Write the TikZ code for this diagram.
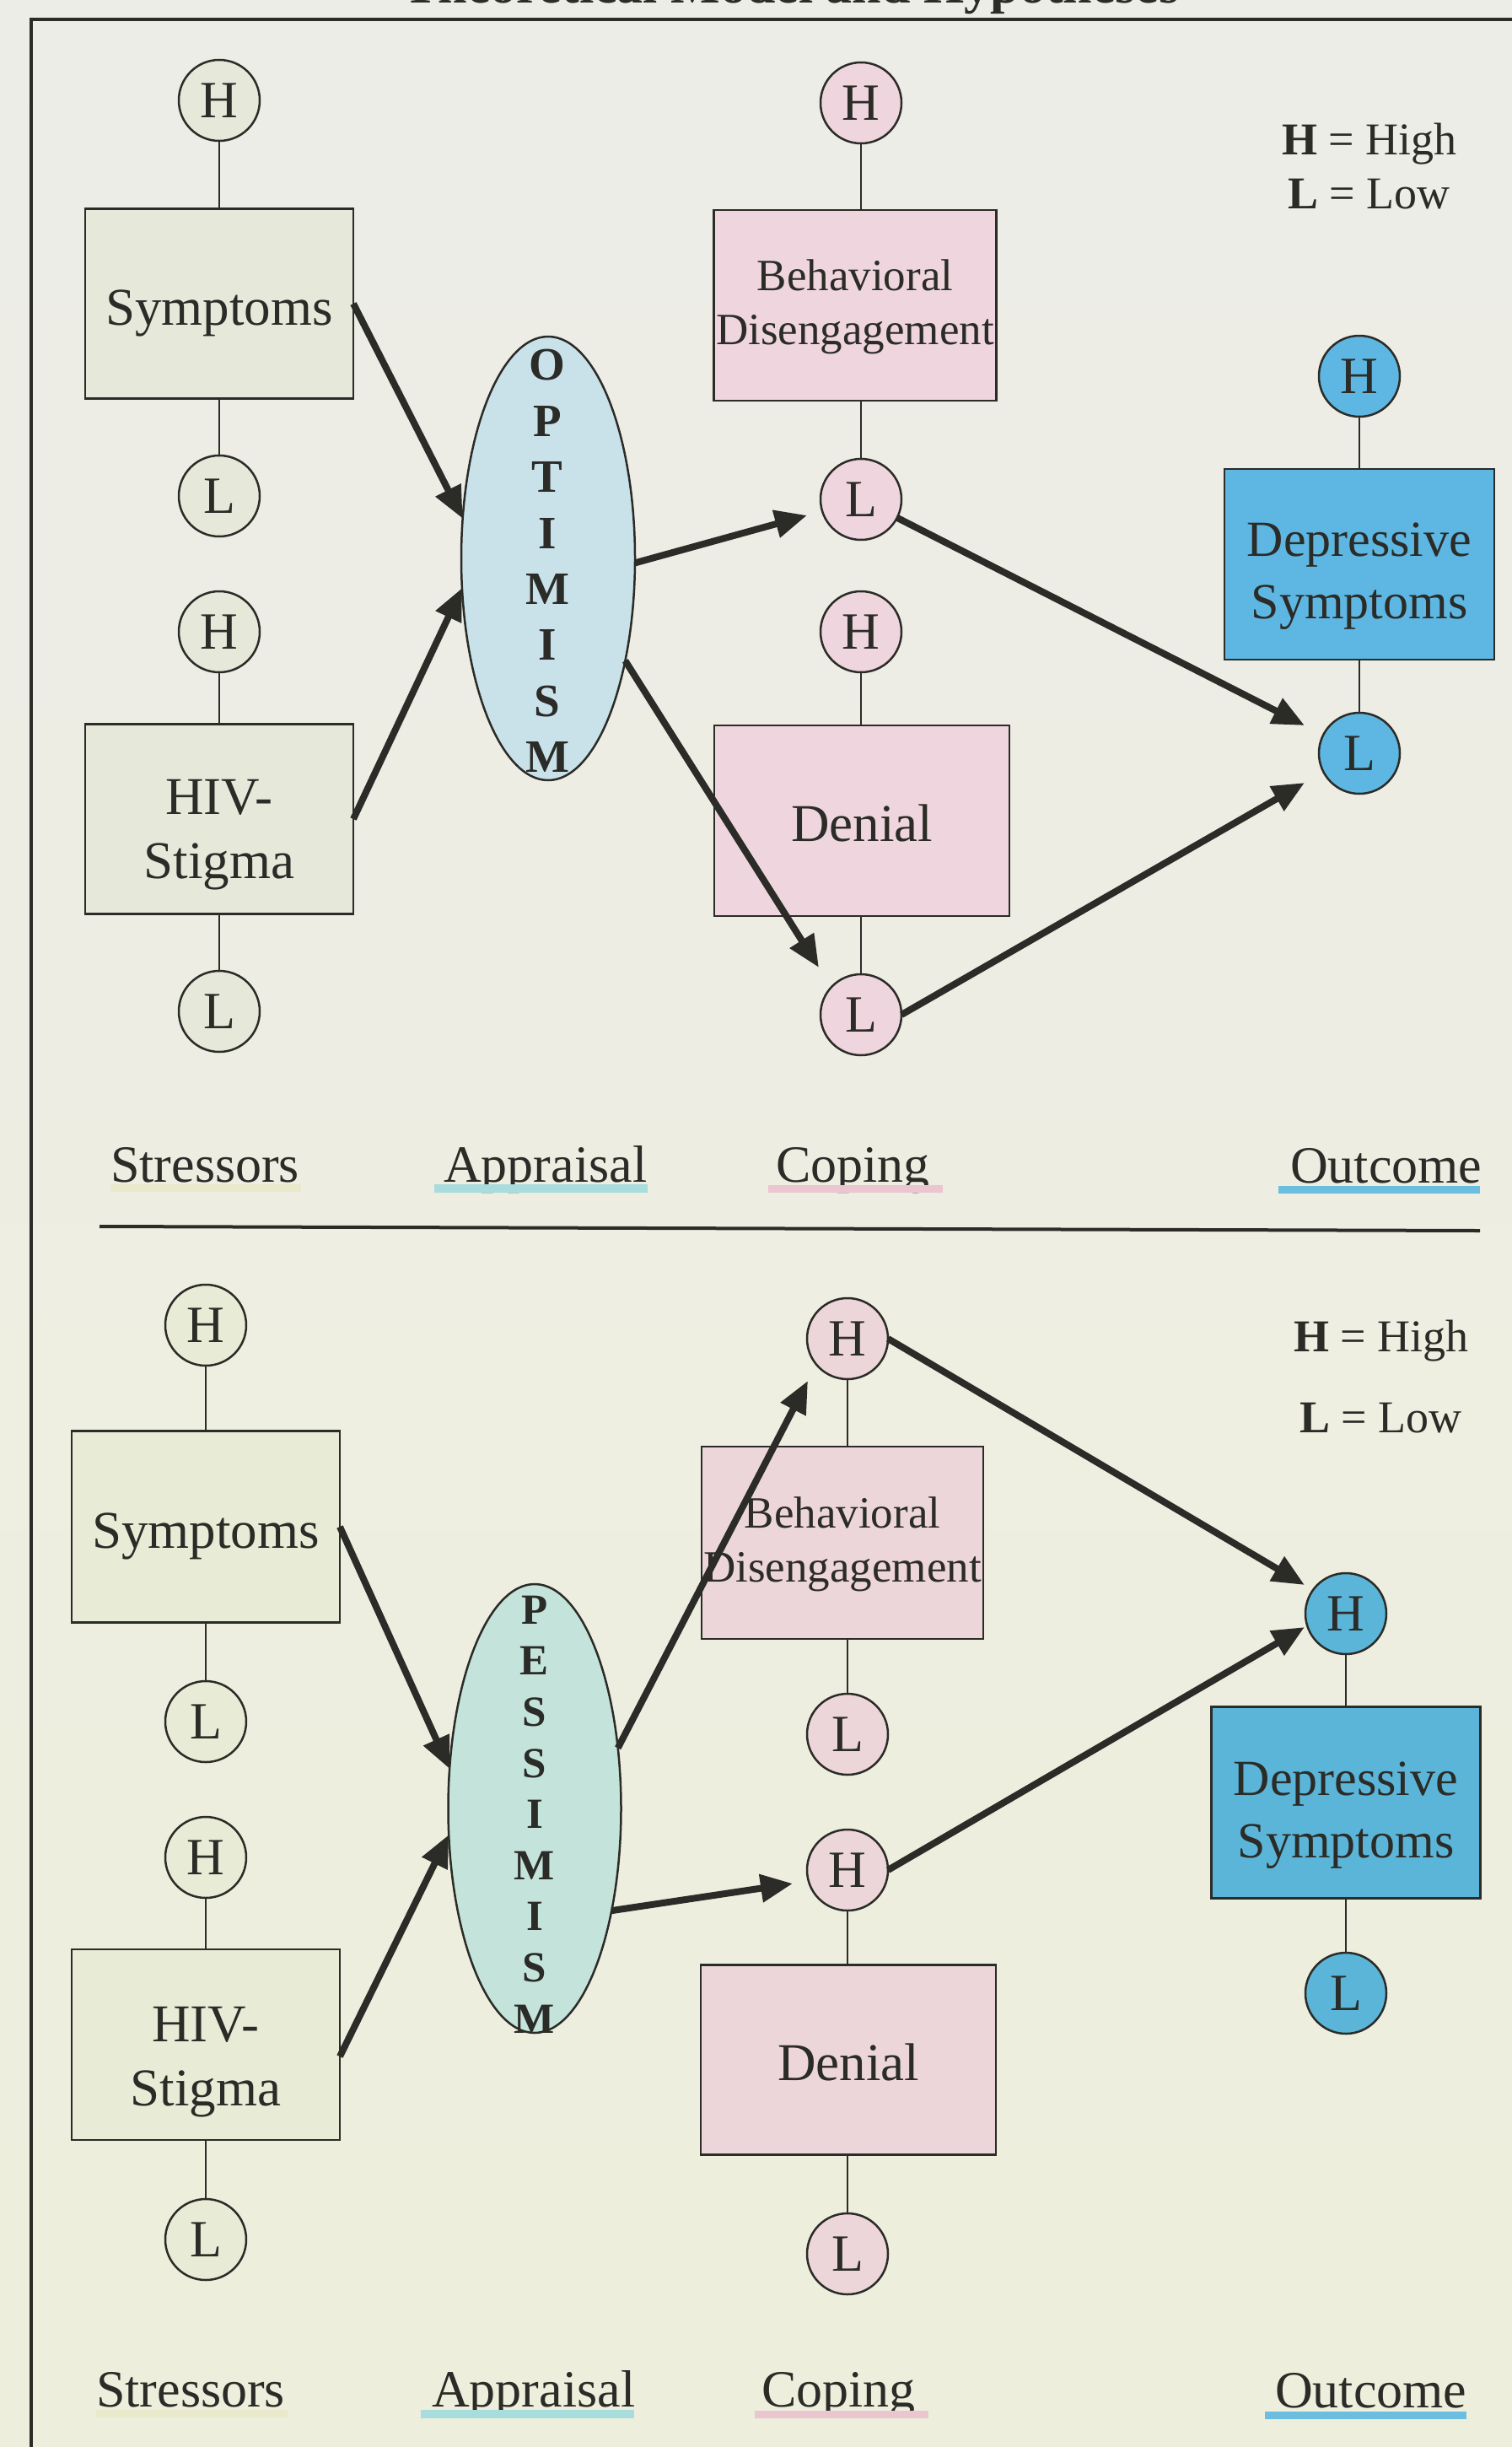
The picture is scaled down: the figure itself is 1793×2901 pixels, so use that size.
\documentclass[tikz,border=0pt]{standalone}
\usepackage{fontspec}
\setmainfont{Liberation Serif}
\usetikzlibrary{shapes.geometric,arrows.meta,calc}
\definecolor{bgtop}{HTML}{EDEDE8}
\definecolor{bgbot}{HTML}{EEEEDC}
\definecolor{ink}{HTML}{2B2B27}
\definecolor{strA}{HTML}{E6E8DA}
\definecolor{strB}{HTML}{E8EBD5}
\definecolor{copA}{HTML}{EED5DE}
\definecolor{copB}{HTML}{ECD6D9}
\definecolor{optc}{HTML}{C9E2EA}
\definecolor{pesc}{HTML}{C4E4DB}
\definecolor{outA}{HTML}{5EB7E2}
\definecolor{outB}{HTML}{5BB5D9}
\definecolor{barS}{HTML}{E9E9CC}
\definecolor{barA}{HTML}{A9DCDC}
\definecolor{barC}{HTML}{EBC6D0}
\definecolor{barO}{HTML}{6CBEE1}
\tikzset{
  circ/.style={circle, draw=ink, line width=2.5pt, minimum size=96pt, inner sep=0pt, outer sep=0pt, font=\fontsize{62}{74}\selectfont, text=ink},
  boxs/.style={rectangle, draw=ink, line width=2.5pt, inner sep=0pt, outer sep=0pt},
  btxt/.style={inner sep=0pt, align=center, text=ink},
  ovl/.style={ellipse, draw=ink, line width=2.5pt, inner sep=0pt, outer sep=0pt},
  conn/.style={draw=ink, line width=2pt},
  arr/.style={draw=ink, line width=8pt, -{Triangle[length=38pt,width=32pt]}},
  lab/.style={anchor=base west, font=\fontsize{62}{74}\selectfont, text=ink, inner sep=0pt},
  leg/.style={anchor=base west, font=\fontsize{54}{64}\selectfont, text=ink, inner sep=0pt},
  fA/.style={font=\fontsize{63}{76}\selectfont},
  fB/.style={font=\fontsize{53}{64}\selectfont},
  fD/.style={font=\fontsize{60}{74}\selectfont},
}
\begin{document}
\begin{tikzpicture}[x=1pt,y=-1pt]
\useasboundingbox (0,0) rectangle (1793,2901);
\clip (0,0) rectangle (1793,2901);
\shade[top color=bgtop,bottom color=bgbot] (0,0) rectangle (1793,2901);
% title (cut off at top)
\node[anchor=base west, inner sep=0pt, font=\fontsize{62}{74}\selectfont\bfseries, text=ink] (title) at (478,4) {Theoretical Model and Hypotheses};
% frame
\draw[ink, line width=3.5pt] (37,2910) -- (37,23) -- (1800,23);

% ================= TOP PANEL =================
\node[circ, fill=strA] (H1) at (260,119) {H};
\node[boxs, fill=strA, minimum width=318pt, minimum height=225pt] (Sym) at (260,360) {};
\node[btxt, fA] (SymT) at ($(Sym.center)+(0,11)$) {Symptoms};
\node[circ, fill=strA] (L1) at (260,588) {L};
\node[circ, fill=strA] (H2) at (260,749) {H};
\node[boxs, fill=strA, minimum width=318pt, minimum height=225pt] (HIV) at (260,971) {};
\node[btxt, fA] (HIVT) at ($(HIV.center)+(0,19)$) {HIV-\\Stigma};
\node[circ, fill=strA] (L2) at (260,1199) {L};

\node[ovl, fill=optc, minimum width=206pt, minimum height=526pt] (Opt) at (650,662) {};
\node[btxt, font=\fontsize{55}{66.4}\selectfont\bfseries] (OptT) at (649,665) {O\\P\\T\\I\\M\\I\\S\\M};

\node[circ, fill=copA] (H3) at (1021,122) {H};
\node[boxs, fill=copA, minimum width=335pt, minimum height=226pt] (BD) at (1014,362) {};
\node[btxt, fB] (BDT) at ($(BD.center)+(0,2)$) {Behavioral\\Disengagement};
\node[circ, fill=copA] (L3) at (1021,592) {L};
\node[circ, fill=copA] (H4) at (1021,749) {H};
\node[boxs, fill=copA, minimum width=350pt, minimum height=226pt] (Den) at (1022,973) {};
\node[btxt, fA] (DenT) at ($(Den.center)+(0,3)$) {Denial};
\node[circ, fill=copA] (L4) at (1021,1203) {L};

\node[circ, fill=outA] (H5) at (1612,446) {H};
\node[boxs, fill=outA, minimum width=320pt, minimum height=226pt] (Dep) at (1612,669) {};
\node[btxt, fD] (DepT) at ($(Dep.center)+(0,14)$) {Depressive\\Symptoms};
\node[circ, fill=outA] (L5) at (1612,893) {L};

\node[leg] (legH1) at (1520,183) {\textbf{H} = High};
\node[leg] (legL1) at (1527,247) {\textbf{L} = Low};

% thin connectors
\draw[conn] (H1.south) -- (H1.south |- Sym.north);
\draw[conn] (L1.north) -- (L1.north |- Sym.south);
\draw[conn] (H2.south) -- (H2.south |- HIV.north);
\draw[conn] (L2.north) -- (L2.north |- HIV.south);
\draw[conn] (H3.south) -- (H3.south |- BD.north);
\draw[conn] (L3.north) -- (L3.north |- BD.south);
\draw[conn] (H4.south) -- (H4.south |- Den.north);
\draw[conn] (L4.north) -- (L4.north |- Den.south);
\draw[conn] (H5.south) -- (H5.south |- Dep.north);
\draw[conn] (L5.north) -- (L5.north |- Dep.south);

% arrows
\coordinate (a3e) at (957,611);
\coordinate (a4e) at (971,1147);
\coordinate (a5e) at (1547,860);
\coordinate (a6e) at (1547,928);
\draw[arr] (Sym.east) -- (Opt.155);
\draw[arr] (HIV.east) -- (Opt.199);
\draw[arr] (Opt.-3) -- (a3e);
\draw[arr] (Opt.-53) -- (a4e);
\draw[arr] (L3) -- (a5e);
\draw[arr] (L4.east) -- (a6e);

% labels
\node[lab] (st1) at (131,1401) {Stressors};
\node[lab] (ap1) at (526,1401) {Appraisal};
\node[lab] (cp1) at (920,1401) {Coping};
\node[lab] (oc1) at (1530,1402) {Outcome};
\fill[barS] (131,1404) rectangle (357,1413);
\fill[barA] (515,1404) rectangle (768,1414);
\fill[barC] (911,1405) rectangle (1118,1414);
\fill[barO] (1516,1406) rectangle (1755,1415);

% separator
\draw[ink, line width=4pt] (118,1454) -- (1755,1459);

% ================= BOTTOM PANEL =================
\node[circ, fill=strB] (H6) at (244,1571) {H};
\node[boxs, fill=strB, minimum width=318pt, minimum height=227pt] (Sym2) at (244,1810) {};
\node[btxt, fA] (Sym2T) at ($(Sym2.center)+(0,11)$) {Symptoms};
\node[circ, fill=strB] (L6) at (244,2041) {L};
\node[circ, fill=strB] (H7) at (244,2202) {H};
\node[boxs, fill=strB, minimum width=318pt, minimum height=226pt] (HIV2) at (244,2424) {};
\node[btxt, fA] (HIV2T) at ($(HIV2.center)+(0,21)$) {HIV-\\Stigma};
\node[circ, fill=strB] (L7) at (244,2655) {L};

\node[ovl, fill=pesc, minimum width=205pt, minimum height=532pt] (Opt2) at (634,2144) {};
\node[btxt, font=\fontsize{51}{60.6}\selectfont\bfseries] (Opt2T) at (634,2151) {P\\E\\S\\S\\I\\M\\I\\S\\M};

\node[circ, fill=copB] (H8) at (1005,1587) {H};
\node[boxs, fill=copB, minimum width=334pt, minimum height=228pt] (BD2) at (999,1829) {};
\node[btxt, fB] (BD2T) at ($(BD2.center)+(0,2)$) {Behavioral\\Disengagement};
\node[circ, fill=copB] (L8) at (1005,2056) {L};
\node[circ, fill=copB] (H9) at (1005,2217) {H};
\node[boxs, fill=copB, minimum width=350pt, minimum height=225pt] (Den2) at (1006,2442) {};
\node[btxt, fA] (Den2T) at ($(Den2.center)+(0,3)$) {Denial};
\node[circ, fill=copB] (L9) at (1005,2672) {L};

\node[circ, fill=outB] (H10) at (1596,1913) {H};
\node[boxs, fill=outB, minimum width=319pt, minimum height=227pt] (Dep2) at (1596,2137) {};
\node[btxt, fD] (Dep2T) at ($(Dep2.center)+(0,15)$) {Depressive\\Symptoms};
\node[circ, fill=outB] (L10) at (1596,2363) {L};

\node[leg] (legH2) at (1534,1602) {\textbf{H} = High};
\node[leg] (legL2) at (1541,1698) {\textbf{L} = Low};

\draw[conn] (H6.south) -- (H6.south |- Sym2.north);
\draw[conn] (L6.north) -- (L6.north |- Sym2.south);
\draw[conn] (H7.south) -- (H7.south |- HIV2.north);
\draw[conn] (L7.north) -- (L7.north |- HIV2.south);
\draw[conn] (H8.south) -- (H8.south |- BD2.north);
\draw[conn] (L8.north) -- (L8.north |- BD2.south);
\draw[conn] (H9.south) -- (H9.south |- Den2.north);
\draw[conn] (L9.north) -- (L9.north |- Den2.south);
\draw[conn] (H10.south) -- (H10.south |- Dep2.north);
\draw[conn] (L10.north) -- (L10.north |- Dep2.south);

\coordinate (b3e) at (958,1637);
\coordinate (b4e) at (940,2233);
\coordinate (b5e) at (1547,1879);
\coordinate (b6e) at (1547,1929);
\draw[arr] (Sym2.east) -- (Opt2.155);
\draw[arr] ($(HIV2.east)+(0,14)$) -- (Opt2.197);
\draw[arr] (Opt2.36) -- (b3e);
\draw[arr] (Opt2.-53) -- (b4e);
\draw[arr] (H8.east) -- (b5e);
\draw[arr] (H9.east) -- (b6e);

\node[lab] (st2) at (114,2853) {Stressors};
\node[lab] (ap2) at (512,2853) {Appraisal};
\node[lab] (cp2) at (903,2853) {Coping};
\node[lab] (oc2) at (1512,2854) {Outcome};
\fill[barS] (114,2857) rectangle (341,2866);
\fill[barA] (499,2857) rectangle (752,2867);
\fill[barC] (895,2858) rectangle (1101,2867);
\fill[barO] (1500,2859) rectangle (1739,2868);
\end{tikzpicture}
\end{document}
